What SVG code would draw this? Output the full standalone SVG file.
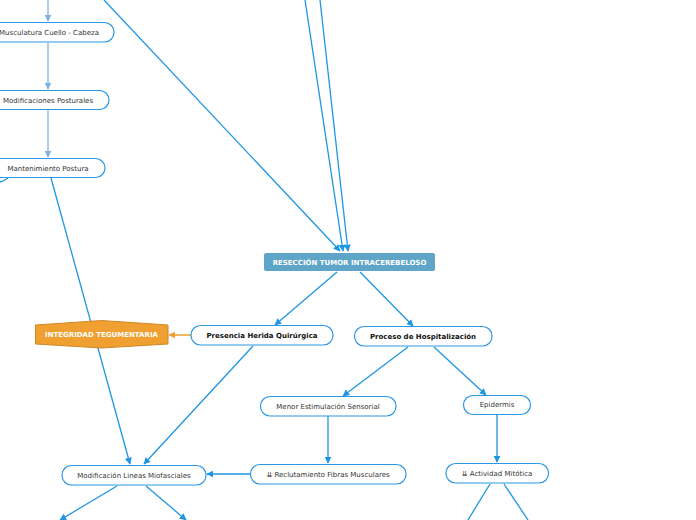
<svg xmlns="http://www.w3.org/2000/svg" width="696" height="520" viewBox="0 0 696 520">
<style>
.n{fill:#fff;stroke:#2a97e2;stroke-width:1.2}
.t{font-family:"DejaVu Sans",Verdana,sans-serif;font-size:7px;fill:#333;text-anchor:middle;dominant-baseline:central}
.b{font-weight:bold;fill:#111}
.w{font-weight:bold;fill:#fff}
.c{fill:none;stroke:#1e96e2;stroke-width:1.3}
.l{fill:none;stroke:#7db3e2;stroke-width:1.3}
.o{fill:none;stroke:#f0a030;stroke-width:1.5}
</style>
<defs>
<marker id="a" viewBox="0 0 10 10" refX="9" refY="5" markerWidth="7" markerHeight="7" markerUnits="userSpaceOnUse" orient="auto"><path d="M0,0L10,5L0,10z" fill="#1e96e2"/></marker>
<marker id="al" viewBox="0 0 10 10" refX="9" refY="5" markerWidth="7" markerHeight="7" markerUnits="userSpaceOnUse" orient="auto"><path d="M0,0L10,5L0,10z" fill="#7db3e2"/></marker>
<marker id="ao" viewBox="0 0 10 10" refX="9" refY="5" markerWidth="7" markerHeight="7" markerUnits="userSpaceOnUse" orient="auto"><path d="M0,0L10,5L0,10z" fill="#f0a030"/></marker>
</defs>
<rect width="696" height="520" fill="#fff"/>
<g id="connectors">
<path class="l" d="M48,0V21" marker-end="url(#al)"/>
<path class="l" d="M48,43V89" marker-end="url(#al)"/>
<path class="l" d="M48,110V157" marker-end="url(#al)"/>
<path class="c" d="M8,178Q4,181 0,182"/>
<path class="c" d="M51,178L130,464" marker-end="url(#a)"/>
<path class="c" d="M104,0L340,251" marker-end="url(#a)"/>
<path class="c" d="M305,0L343,251" marker-end="url(#a)"/>
<path class="c" d="M320,0L348,251" marker-end="url(#a)"/>
<path class="c" d="M337,272L275,325" marker-end="url(#a)"/>
<path class="c" d="M360,272L413,326" marker-end="url(#a)"/>
<path class="o" d="M191,335H169" marker-end="url(#ao)"/>
<path class="c" d="M253,346L144,464" marker-end="url(#a)"/>
<path class="c" d="M408,347L343,396" marker-end="url(#a)"/>
<path class="c" d="M434,347L486,395" marker-end="url(#a)"/>
<path class="c" d="M328,416V463" marker-end="url(#a)"/>
<path class="c" d="M497,414V462" marker-end="url(#a)"/>
<path class="c" d="M250,474H207" marker-end="url(#a)"/>
<path class="c" d="M117,486L60,520" marker-end="url(#a)"/>
<path class="c" d="M146,486L186,520" marker-end="url(#a)"/>
<path class="c" d="M490,484L468,520"/>
<path class="c" d="M504,484L528,520"/>
</g>
<g id="musculatura"><rect class="n" x="-20" y="22.5" width="134" height="19.5" rx="9.5"/><text class="t" x="49" y="32.5">Musculatura Cuello - Cabeza</text></g>
<g id="modificaciones"><rect class="n" x="-20" y="90.5" width="129" height="19" rx="9.5"/><text class="t" x="48" y="100.5">Modificaciones Posturales</text></g>
<g id="mantenimiento"><rect class="n" x="-20" y="158.5" width="125" height="19" rx="9.5"/><text class="t" x="48" y="168.5">Mantenimiento Postura</text></g>
<g id="reseccion"><rect x="264" y="253" width="171" height="18" rx="2" fill="#5ea5c7"/><text class="t w" x="349.5" y="262.5">RESECCIÓN TUMOR INTRACEREBELOSO</text></g>
<g id="integridad"><path d="M35.5,325L101.5,320.5L168,325V344L101.5,348L35.5,344Z" fill="#f0a030" stroke="#d08828" stroke-width="1"/><text class="t w" x="101.5" y="334.5">INTEGRIDAD TEGUMENTARIA</text></g>
<g id="presencia"><rect class="n" x="191" y="325.5" width="142" height="19.5" rx="9.5"/><text class="t b" x="262" y="335.5">Presencia Herida Quirúrgica</text></g>
<g id="proceso"><rect class="n" x="354.5" y="326.5" width="137.5" height="19.5" rx="9.5"/><text class="t b" x="423" y="336.5">Proceso de Hospitalización</text></g>
<g id="menor"><rect class="n" x="260.5" y="396.5" width="135.5" height="19.5" rx="9.5"/><text class="t" x="328" y="406.5">Menor Estimulación Sensorial</text></g>
<g id="epidermis"><rect class="n" x="463.5" y="395.5" width="67" height="19" rx="9.5"/><text class="t" x="497" y="405">Epidermis</text></g>
<g id="reclutamiento"><rect class="n" x="250.5" y="464.5" width="155.5" height="19.5" rx="9.5"/><text class="t" x="328" y="474.5">⇊ Reclutamiento Fibras Musculares</text></g>
<g id="actividad"><rect class="n" x="446" y="463.5" width="102.5" height="19.5" rx="9.5"/><text class="t" x="497" y="473.5">⇊ Actividad Mitótica</text></g>
<g id="miofasciales"><rect class="n" x="62" y="465.5" width="144" height="19.5" rx="9.5"/><text class="t" x="134" y="475.5">Modificación Lineas Miofasciales</text></g>
</svg>
